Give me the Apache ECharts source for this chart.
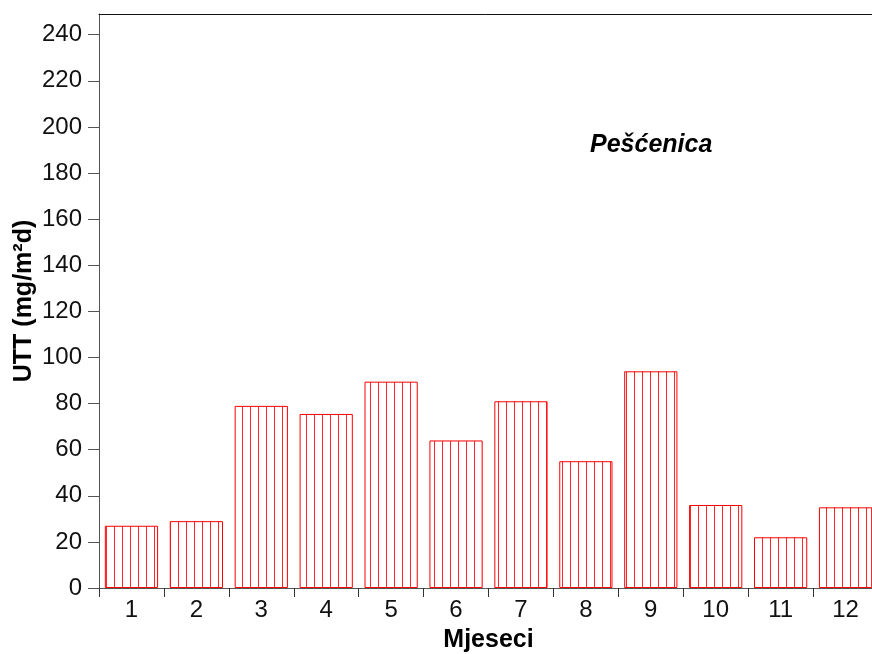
<!DOCTYPE html>
<html><head><meta charset="utf-8">
<script src="https://cdn.jsdelivr.net/npm/echarts@6/dist/echarts.min.js"></script>
<style>html,body{margin:0;padding:0;background:#fff}#c{width:872px;height:654px}</style>
</head><body><div id="c"></div>
<script>
const categories = ['1','2','3','4','5','6','7','8','9','10','11','12'];
const values = [27, 29, 79, 75.5, 89.5, 64, 81, 55, 94, 36, 22, 35];
const yTicks = [0,20,40,60,80,100,120,140,160,180,200,220,240];
const stationLabel = 'Pešćenica';
const xTitle = 'Mjeseci';
const yTitle = 'UTT (mg/m²d)';

const pc = document.createElement('canvas');
pc.width = 8; pc.height = 8;
const g = pc.getContext('2d');
g.fillStyle = '#fff'; g.fillRect(0,0,8,8);
g.fillStyle = 'rgba(255,0,0,0.85)'; g.fillRect(2,0,1,8);

const chart = echarts.init(document.getElementById('c'), null, {renderer:'canvas'});
const font = 'Liberation Sans, Arial, sans-serif';
chart.setOption({
  animation:false,
  grid:{left:99,right:-6,top:14,bottom:66,outerBoundsMode:'none',containLabel:false},
  xAxis:[{
    type:'category', data:categories, position:'bottom',
    boundaryGap:true,
    axisLine:{lineStyle:{color:'#555',width:1}},
    axisTick:{show:true,length:9,alignWithLabel:false,lineStyle:{color:'#333'}},
    axisLabel:{color:'#111',fontSize:24,fontFamily:font,margin:10},
    name:xTitle, nameLocation:'middle', nameGap:40, nameMoveOverlap:false,
    nameTextStyle:{fontSize:25,fontWeight:'bold',fontFamily:font,color:'#000'}
  },{
    type:'category', data:categories, position:'top',
    axisLine:{lineStyle:{color:'#111',width:1}},
    axisTick:{show:false}, axisLabel:{show:false}
  }],
  yAxis:{
    type:'value', min:0, max:249, interval:20,
    axisLine:{show:true,lineStyle:{color:'#555',width:1}},
    axisTick:{show:true,length:11,customValues:yTicks,lineStyle:{color:'#555'}},
    axisLabel:{color:'#111',fontSize:24,fontFamily:font,margin:17,customValues:yTicks},
    splitLine:{show:false},
    name:yTitle, nameLocation:'middle', nameRotate:90, nameGap:62, nameMoveOverlap:false,
    nameTextStyle:{fontSize:25,fontWeight:'bold',fontFamily:font,color:'#000'}
  },
  series:[{
    type:'bar', data:values, barCategoryGap:'18%',
    itemStyle:{color:{image:pc,repeat:'repeat'},borderColor:'#ff0000',borderWidth:1}
  }],
  graphic:[{
    type:'text', left:590, top:133,
    style:{text:stationLabel,font:'italic bold 25px '+font,fill:'#000'}
  }]
});
</script></body></html>
